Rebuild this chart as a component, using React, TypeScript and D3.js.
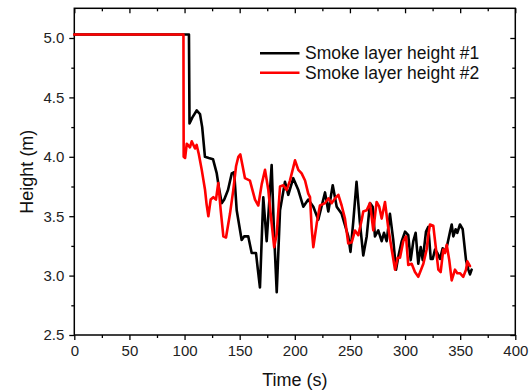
import React, { useRef, useEffect } from "react";
import * as d3 from "d3";

// series #1 (black)
const time1 = [
  0, 104, 104.5, 107, 111, 114, 116, 118.5, 122, 125.8, 129.2, 131, 133.7, 136, 139.4,
  142.8, 145, 147.3, 151.8, 154, 157.8, 160.9, 164.8, 166.5, 168.4, 171.4, 174.5, 179,
  181, 183.6, 186.6, 191.1, 194.1, 198.6, 203.2, 207.7, 212.2, 216.8, 221.3, 227.4,
  230.4, 234.4, 238, 242.5, 248.5, 250.5, 253, 256, 259, 262.1, 265.2, 268.2, 270.6,
  272.7, 275.7, 278.8, 280.9, 283.3, 286.3, 289.3, 291.8, 293.9, 297, 300, 302.9, 305.1,
  307.5, 309.6, 312, 314.2, 316, 319, 321.1, 323.3, 325.1, 327.2, 329.3, 331.7, 334.1,
  336.2, 338.3, 340.8, 342.3, 343.8, 345.9, 347.4, 349.8, 352.3, 355.3, 357.4, 358.9, 360.4,
];
const height1 = [
  5.03, 5.03, 4.28, 4.33, 4.39, 4.36, 4.25, 4.0, 3.99, 3.98, 3.86, 3.75, 3.61, 3.64, 3.72,
  3.86, 3.87, 3.55, 3.3, 3.33, 3.33, 3.19, 3.19, 3.05, 2.9, 3.66, 3.29, 3.93,
  3.4, 2.86, 3.55, 3.79, 3.68, 3.82, 3.72, 3.58, 3.64, 3.58, 3.47, 3.7,
  3.54, 3.76, 3.58, 3.52, 3.33, 3.2, 3.45, 3.79, 3.45, 3.17, 3.33, 3.61, 3.58,
  3.33, 3.38, 3.29, 3.36, 3.29, 3.52, 3.3, 3.05, 3.16, 3.29, 3.37, 3.34, 3.13,
  3.29, 3.36, 3.1, 3.24, 3.13, 3.37, 3.41, 3.14, 3.14, 3.22, 3.19, 3.14, 3.23,
  3.2, 3.26, 3.37, 3.43, 3.33, 3.39, 3.36, 3.43, 3.39, 3.13, 3.05, 3.01, 3.05,
];

// series #2 (red)
const time2 = [
  0, 99, 99.2, 100.5, 102, 104.9, 106.5, 108, 109.5, 111, 113, 115.6, 118.6, 120, 121.6,
  123.7, 126.1, 128.5, 130.6, 132.8, 135.2, 137.6, 141.2, 144.2, 146.7, 148.8, 150.6,
  152.7, 154.8, 159.3, 163.9, 166.9, 170, 173, 176, 179, 181.3, 183.6, 186.6, 189.6,
  192.6, 195.6, 200.2, 203.2, 206.2, 209.3, 212.2, 213.8, 215.3, 216.8, 219.9, 222.8,
  227.4, 230.4, 233.5, 236.5, 239.5, 242.5, 245.5, 248.5, 251.6, 254.6, 257.6, 260.7,
  262.1, 265.2, 268.2, 271.2, 274.2, 276.6, 278.8, 281.8, 284.8, 287.9, 290.9, 293.3,
  295.4, 298.4, 300.9, 302.9, 306, 309, 312, 314.5, 316.6, 319.6, 321.1, 322.6, 325.6,
  328.1, 330.2, 332.3, 334.7, 336.2, 337.8, 340.1, 342.3, 345.3, 347.4, 349.8, 352.8,
  355.3, 356.5, 358.9,
];
const height2 = [
  5.03, 5.03, 4.0, 3.99, 4.11, 4.08, 4.13, 4.1, 4.07, 4.1, 4.02, 3.89, 3.72, 3.6, 3.5,
  3.64, 3.66, 3.64, 3.78, 3.55, 3.33, 3.32, 3.52, 3.72, 3.92, 4.0, 4.02,
  3.92, 3.82, 3.8, 3.64, 3.59, 3.77, 3.89, 3.72, 3.44, 3.24, 3.35, 3.75, 3.76,
  3.72, 3.8, 3.97, 3.89, 3.86, 3.8, 3.69, 3.66, 3.4, 3.24, 3.44, 3.59,
  3.61, 3.65, 3.61, 3.65, 3.68, 3.59, 3.48, 3.27, 3.28, 3.38, 3.34, 3.47,
  3.54, 3.55, 3.61, 3.38, 3.62, 3.58, 3.48, 3.62, 3.4, 3.22, 3.05, 3.15,
  3.15, 3.29, 3.33, 3.09, 3.1, 3.03, 2.99, 3.05, 3.1, 3.22, 3.34, 3.43, 3.42,
  3.22, 3.05, 3.03, 3.22, 3.19, 3.26, 3.13, 2.96, 3.05, 3.02, 3.02, 2.99,
  3.05, 3.12, 3.08,
];

const xTicks = [0, 50, 100, 150, 200, 250, 300, 350, 400];
const xMinor = [25, 75, 125, 175, 225, 275, 325, 375];
const yTicks = [2.5, 3.0, 3.5, 4.0, 4.5, 5.0];
const yMinor = [2.75, 3.25, 3.75, 4.25, 4.75, 5.25];
const seriesNames = ["Smoke layer height #1", "Smoke layer height #2"];
const seriesColors = ["#000000", "#ff0000"];

export default function App() {
  const svgRef = useRef<SVGSVGElement>(null);

  useEffect(() => {
    const width = 529;
    const height = 390;
    const left = 74.3, right = 515.3, bottom = 335, top = 8.3;
    const font = "'Liberation Sans', Arial, sans-serif";

    const svg = d3.select(svgRef.current);
    svg.selectAll("*").remove();
    svg.attr("width", width).attr("height", height);

    const x = d3.scaleLinear().domain([0, 400]).range([left, right]);
    const y = d3.scaleLinear().domain([2.5, 5.25]).range([bottom, top]);

    const styleAxis = (g: any) => {
      g.select(".domain").remove();
      g.selectAll("line").attr("stroke", "#000").attr("stroke-width", 1.3);
      g.selectAll("text").attr("font-family", font).attr("font-size", 15).attr("fill", "#222");
    };

    // bottom
    svg.append("g").attr("transform", `translate(0,${bottom})`)
      .call(d3.axisBottom(x).tickValues(xTicks).tickSize(5).tickPadding(5).tickFormat(d3.format("d")))
      .call(styleAxis);
    svg.append("g").attr("transform", `translate(0,${bottom})`)
      .call(d3.axisBottom(x).tickValues(xMinor).tickSize(3).tickFormat(() => ""))
      .call(styleAxis);
    // left
    svg.append("g").attr("transform", `translate(${left},0)`)
      .call(d3.axisLeft(y).tickValues(yTicks).tickSize(5).tickPadding(5).tickFormat(d3.format(".1f")))
      .call(styleAxis);
    svg.append("g").attr("transform", `translate(${left},0)`)
      .call(d3.axisLeft(y).tickValues(yMinor.filter(v => v < 5.25)).tickSize(3).tickFormat(() => ""))
      .call(styleAxis);
    // top (inward)
    svg.append("g").attr("transform", `translate(0,${top})`)
      .call(d3.axisBottom(x).tickValues(xTicks).tickSize(5).tickFormat(() => ""))
      .call(styleAxis);
    svg.append("g").attr("transform", `translate(0,${top})`)
      .call(d3.axisBottom(x).tickValues(xMinor).tickSize(3).tickFormat(() => ""))
      .call(styleAxis);
    // right (inward)
    svg.append("g").attr("transform", `translate(${right},0)`)
      .call(d3.axisLeft(y).tickValues(yTicks).tickSize(5).tickFormat(() => ""))
      .call(styleAxis);
    svg.append("g").attr("transform", `translate(${right},0)`)
      .call(d3.axisLeft(y).tickValues(yMinor.filter(v => v < 5.25)).tickSize(3).tickFormat(() => ""))
      .call(styleAxis);

    // frame
    svg.append("rect")
      .attr("x", left).attr("y", top)
      .attr("width", right - left).attr("height", bottom - top)
      .attr("fill", "none").attr("stroke", "#000").attr("stroke-width", 1.5);

    // lines
    const series = [
      time1.map((t, i) => [t, height1[i]] as [number, number]),
      time2.map((t, i) => [t, height2[i]] as [number, number]),
    ];
    const line = d3.line<[number, number]>().x(d => x(d[0])).y(d => y(d[1]));
    series.forEach((pts, i) => {
      svg.append("path")
        .datum(pts)
        .attr("d", line)
        .attr("fill", "none")
        .attr("stroke", seriesColors[i])
        .attr("stroke-width", 2.6)
        .attr("stroke-linejoin", "round")
        .attr("stroke-linecap", "round");
    });

    // legend
    seriesNames.forEach((name, i) => {
      const ly = 53.3 + i * 19.4;
      svg.append("line")
        .attr("x1", 260).attr("x2", 299.5).attr("y1", ly).attr("y2", ly)
        .attr("stroke", seriesColors[i]).attr("stroke-width", 2.6);
      svg.append("text")
        .attr("x", 305).attr("y", ly).attr("dy", "0.35em")
        .attr("font-family", font).attr("font-size", 17.5).attr("fill", "#111")
        .text(name);
    });

    // axis titles
    svg.append("text")
      .attr("x", (left + right) / 2).attr("y", 386)
      .attr("text-anchor", "middle")
      .attr("font-family", font).attr("font-size", 18).attr("fill", "#111")
      .text("Time (s)");
    svg.append("text")
      .attr("transform", "rotate(-90)")
      .attr("x", -(top + bottom) / 2).attr("y", 33)
      .attr("text-anchor", "middle")
      .attr("font-family", font).attr("font-size", 18).attr("fill", "#111")
      .text("Height (m)");
  }, []);

  return (
    <svg ref={svgRef} style={{ position: "absolute", left: 0, top: 0, background: "#fff" }}></svg>
  );
}
